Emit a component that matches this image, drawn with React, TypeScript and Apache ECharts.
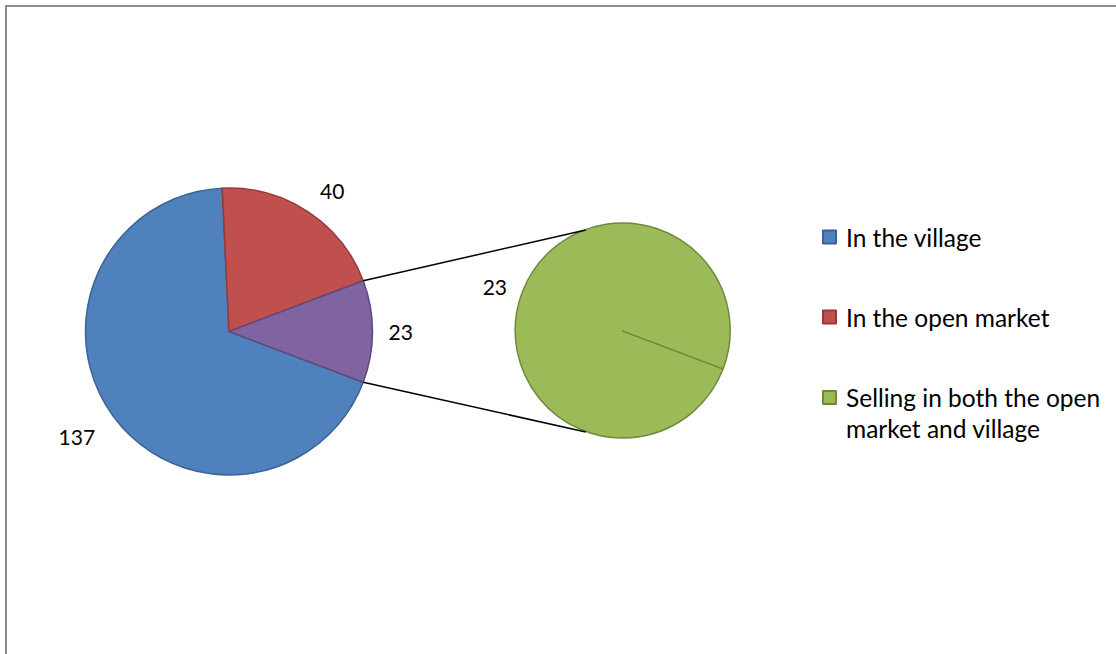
import React, { useEffect, useRef } from "react";
import * as echarts from "echarts";

// ---- data ----
const mainNames = ["In the village", "In the open market", "Other"];
const mainValues = [137, 40, 23];
const secondaryNames = ["Selling in both the open market and village"];
const secondaryValues = [23];
const legendNames = ["In the village", "In the open market", "Selling in both the open market and village"];

// ---- style ----
const FONT = "Lato";
const FS = 21;
const LFS = 24.5;
const LH = 31;
const fills = ["#4F81BD", "#C0504D", "#8064A2"];
const borders = ["#3A6293", "#943A37", "#5E4A7A"];
const secFill = "#9BBB59";
const secBorder = "#71893F";
const MAIN = { cx: 229, cy: 331.5, r: 143.5 };
const SEC = { cx: 622.5, cy: 331, r: 107.5 };
const CONNECT_ANGLE = 110; // degrees on the secondary pie
const mainLabelLines = [
  { length: 35, length2: -10.5 },
  { length: 25, length2: -1.5 },
  { length: 16, length2: 0 },
];
const secLabelLine = { length: 17.5, length2: -1.5 };

export default function App() {
  const ref = useRef<HTMLDivElement>(null);
  useEffect(() => {
    if (!ref.current) return;
    const chart = echarts.init(ref.current, undefined, { renderer: "svg" });
    const total = mainValues.reduce((a, b) => a + b, 0);
    const other = mainValues[mainValues.length - 1];
    const half = (other / total) * 180; // half of the "other" slice angle
    const startAngle = 360 - half;
    const rad = (d: number) => (d * Math.PI) / 180;

    const p1 = [MAIN.cx + MAIN.r * Math.cos(rad(half)), MAIN.cy - MAIN.r * Math.sin(rad(half))];
    const p2 = [MAIN.cx + MAIN.r * Math.cos(rad(-half)), MAIN.cy - MAIN.r * Math.sin(rad(-half))];
    const q1 = [SEC.cx + SEC.r * Math.cos(rad(CONNECT_ANGLE)), SEC.cy - SEC.r * Math.sin(rad(CONNECT_ANGLE))];
    const q2 = [SEC.cx + SEC.r * Math.cos(rad(-CONNECT_ANGLE)), SEC.cy - SEC.r * Math.sin(rad(-CONNECT_ANGLE))];

    const labelStyle = {
      show: true,
      position: "outside",
      formatter: "{c}",
      fontFamily: FONT,
      fontSize: FS,
      color: "#000",
      distanceToLabelLine: 0,
    };

    const legendCommon = {
      orient: "vertical",
      left: 822,
      padding: 0,
      itemWidth: 13,
      itemHeight: 13,
      icon: "rect",
      selectedMode: false,
      textStyle: { fontFamily: FONT, fontSize: LFS, color: "#000", lineHeight: LH, padding: [0, 0, 0, 5] },
    };

    chart.setOption({
      animation: false,
      backgroundColor: "#fff",
      legend: [
        { ...legendCommon, top: 237 - LH / 2, data: [legendNames[0]] },
        { ...legendCommon, top: 317 - LH / 2, data: [legendNames[1]] },
        {
          ...legendCommon,
          top: 397.5 - (LH * 3) / 2,
          data: [legendNames[2]],
          formatter: () => "\nSelling in both the open\nmarket and village",
        },
      ],
      graphic: [
        {
          type: "line",
          z: 100,
          shape: { x1: p1[0], y1: p1[1], x2: q1[0], y2: q1[1] },
          style: { stroke: "#000", lineWidth: 1.5 },
        },
        {
          type: "line",
          z: 100,
          shape: { x1: p2[0], y1: p2[1], x2: q2[0], y2: q2[1] },
          style: { stroke: "#000", lineWidth: 1.5 },
        },
      ],
      series: [
        {
          type: "pie",
          center: [MAIN.cx, MAIN.cy],
          radius: MAIN.r,
          startAngle,
          clockwise: true,
          avoidLabelOverlap: false,
          label: labelStyle,
          labelLine: { show: false },
          emphasis: { disabled: true },
          data: mainNames.map((n, i) => ({
            name: n,
            value: mainValues[i],
            itemStyle: { color: fills[i], borderColor: borders[i], borderWidth: 1.5 },
            labelLine: { show: false, ...mainLabelLines[i] },
          })),
        },
        {
          type: "pie",
          center: [SEC.cx, SEC.cy],
          radius: SEC.r,
          startAngle,
          clockwise: true,
          avoidLabelOverlap: false,
          label: labelStyle,
          labelLine: { show: false, ...secLabelLine },
          emphasis: { disabled: true },
          data: [
            ...secondaryNames.map((n, i) => ({
              name: n,
              value: secondaryValues[i],
              itemStyle: { color: secFill, borderColor: secBorder, borderWidth: 1.5 },
            })),
            {
              name: "",
              value: 0,
              itemStyle: { color: secFill, borderColor: secBorder, borderWidth: 1.5 },
              label: { show: false },
            },
          ],
        },
      ],
    });
    return () => chart.dispose();
  }, []);

  return (
    <div style={{ position: "fixed", left: 0, top: 0, width: 1116, height: 654, overflow: "hidden", background: "#fff" }}>
      <div ref={ref} style={{ position: "absolute", left: 0, top: 0, width: 1116, height: 654 }} />
      <div
        style={{
          position: "absolute",
          left: 5,
          top: 5,
          width: 2000,
          height: 2000,
          borderLeft: "2px solid #8c8c8c",
          borderTop: "2px solid #8c8c8c",
          pointerEvents: "none",
        }}
      />
    </div>
  );
}
